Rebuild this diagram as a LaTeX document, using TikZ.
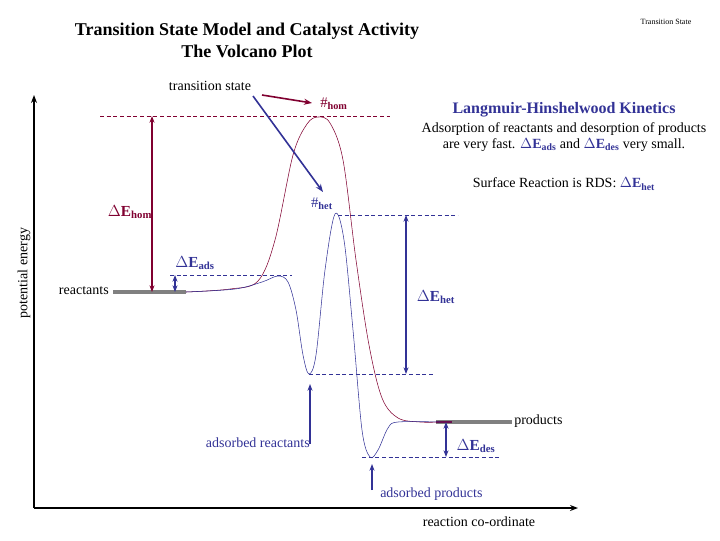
\documentclass[tikz,border=0pt]{standalone}
\usepackage{fontspec}
\setmainfont{Liberation Serif}
\usetikzlibrary{arrows.meta}
\definecolor{hom}{RGB}{128,0,48}
\definecolor{het}{RGB}{50,50,150}
\begin{document}
\begin{tikzpicture}[x=0.75pt,y=-0.75pt,
  lbl/.style={inner sep=0pt,font=\fontsize{10.5}{12.5}\selectfont},
  dl/.style={inner sep=0pt,font=\fontsize{11.5}{13}\selectfont\bfseries},
  dsh/.style={dashed,dash pattern=on 3pt off 2pt,thin},
  dar/.style={{Stealth[length=5pt]}-{Stealth[length=5pt]},line width=1.1pt},
  uar/.style={-{Stealth[length=5pt]},line width=1.1pt,het}]
\useasboundingbox (0,0) rectangle (720,540);
\node[inner sep=0pt,align=center,font=\fontsize{13.5}{16.5}\selectfont\bfseries] (title) at (247,40) {Transition State Model and Catalyst Activity\\The Volcano Plot};
\node[inner sep=0pt,font=\fontsize{6}{7}\selectfont] (ts) at (666,22) {Transition State};
\coordinate (o) at (34,508); \coordinate (ytop) at (34,95); \coordinate (xend) at (578,508);
\draw[line width=1.2pt,-{Stealth[length=6pt]}] (o) -- (ytop);
\draw[line width=1.2pt,-{Stealth[length=6pt]}] (o) -- (xend);
\node[lbl,rotate=90] (pe) at (24,273) {potential energy};
\node[lbl] (rc) at (479,522) {reaction co-ordinate};
\draw[line width=3pt,gray] (113,292) -- (186,292);
\draw[line width=3pt,gray] (436,422) -- (512,422);
\draw[line width=2pt,hom!70!het] (436,422) -- (452,422);
\node[lbl,anchor=east] (reac) at (109,291) {reactants};
\node[lbl,anchor=west] (prod) at (514,421) {products};
\draw[dsh,hom] (100,116) -- (390,116);
\draw[dsh,het] (170,275) -- (292,275);
\draw[dsh,het] (338,215) -- (458,215);
\draw[dsh,het] (309,374) -- (435,374);
\draw[dsh,het] (362,457) -- (500,457);
\draw[hom,thin] plot[smooth,tension=0.55] coordinates {(186,292) (230,289) (258,281) (275,240) (293,155) (307,124) (318,117) (330,123) (343,160) (356,260) (369,345) (382,398) (398,418) (420,422) (440,422)};
\draw[het,thin] plot[smooth,tension=0.55] coordinates {(186,292) (235,289) (262,282) (278,276) (288,282) (296,310) (303,355) (309,374) (316,355) (325,270) (335,214) (344,240) (353,330) (362,430) (370,457) (378,450) (388,428) (398,422) (440,422)};
\draw[dar,hom] (152,116) -- (152,292);
\draw[dar,het,line width=0.9pt] (175,275) -- (175,292);
\draw[dar,het] (406,215) -- (406,374);
\draw[dar,het] (446,422) -- (446,457);
\node[dl,hom] (ehom) at (130,212) {$\Delta$E\textsubscript{hom}};
\node[dl,het] (eads) at (195,263) {$\Delta$E\textsubscript{ads}};
\node[dl,het] (ehet) at (436,297) {$\Delta$E\textsubscript{het}};
\node[dl,het] (edes) at (476,446) {$\Delta$E\textsubscript{des}};
\node[lbl] (tsl) at (210,86) {transition state};
\node[inner sep=0pt,hom,font=\fontsize{11}{12}\selectfont] (thom) at (334,104) {\#\textsubscript{\bfseries hom}};
\node[inner sep=0pt,het,font=\fontsize{11}{12}\selectfont] (thet) at (322,204) {\#\textsubscript{\bfseries het}};
\coordinate (ra) at (262,95); \coordinate (rb) at (312,103);
\coordinate (ba) at (253,96); \coordinate (bb) at (323,192);
\draw[-{Stealth[length=6pt]},line width=1.2pt,hom] (ra) -- (rb);
\draw[-{Stealth[length=6pt]},line width=1.2pt,het] (ba) -- (bb);
\node[lbl,het,anchor=east] (adr) at (310,443) {adsorbed reactants};
\node[lbl,het,anchor=west] (adp) at (380,494) {adsorbed products};
\coordinate (a1) at (310,444); \coordinate (a2) at (310,384);
\coordinate (p1) at (372,490); \coordinate (p2) at (372,464);
\draw[uar] (a1) -- (a2);
\draw[uar] (p1) -- (p2);
\node[inner sep=0pt,het,font=\fontsize{12}{14}\selectfont\bfseries] (lh) at (564,110) {Langmuir-Hinshelwood Kinetics};
\node[lbl,align=center] (ads) at (564,137) {Adsorption of reactants and desorption of products\\are very fast. {\bfseries\color{het}$\Delta$E\textsubscript{ads}} and {\bfseries\color{het}$\Delta$E\textsubscript{des}} very small.};
\node[lbl] (rds) at (564,184) {Surface Reaction is RDS: {\bfseries\color{het}$\Delta$E\textsubscript{het}}};
\end{tikzpicture}
\end{document}
